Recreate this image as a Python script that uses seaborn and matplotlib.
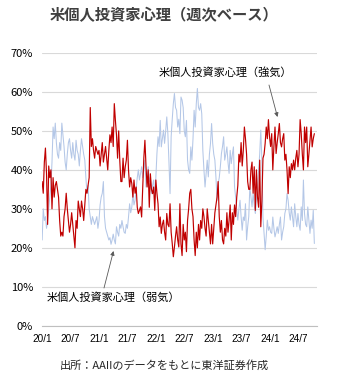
import numpy as np
import pandas as pd
import matplotlib
matplotlib.use('Agg')
import matplotlib.pyplot as plt
from matplotlib.ticker import FuncFormatter
import seaborn as sns

# ---------------- data (weekly AAII sentiment, %) ----------------
bull_2020 = [37, 34, 42, 45.6, 39, 26, 41, 38, 40, 30, 38, 33, 36, 37, 35, 33, 27, 23, 24, 23,
             28, 30, 34, 30, 27, 24, 26, 29, 26, 23, 20, 27, 25, 32, 30, 28, 32, 30, 27, 31,
             35, 34, 36, 38, 56, 46, 48, 45, 43, 46, 45, 44]
bull_2021 = [45, 41, 44, 47, 42, 44, 46, 43, 40, 45, 49, 47, 51, 46, 57, 52.7, 49, 43, 50, 42.5,
             37, 37, 43, 38, 40.8, 42.5, 47.6, 40, 35.6, 38, 36.5, 33, 37.4, 34, 35.6, 30.4, 28.8, 29.6, 30.5, 27.9,
             35.6, 43, 47.6, 41, 35.6, 40, 30.4, 39, 35, 33.9, 35.6, 29.6]
bull_2022 = [37.4, 34, 31.3, 25.4, 27.9, 23.7, 26, 27.1, 24, 22, 28.8, 26, 25.4, 31.3, 24, 21.1, 17.7, 20.2, 23, 25.4,
             22, 20.2, 31.3, 21, 18, 26, 22, 24, 19, 27, 30, 34, 35, 30, 28, 22, 18, 24, 20, 26,
             22, 27, 25, 30, 28, 25, 23, 30, 27, 24, 21, 26]
bull_2023 = [21, 25, 29, 31, 33, 37, 28, 24, 27, 22, 21, 25, 23, 29, 24, 27, 31, 22, 29, 26,
             31, 28, 33, 36, 44, 42, 47, 41, 45, 51, 48, 44, 37, 35, 35, 40, 42, 34, 40.8, 29.6,
             40, 33, 30.4, 42.5, 25.4, 32, 43, 44, 46.8, 51, 48, 52.9]
bull_2024 = [48.5, 46, 49.3, 40, 46, 51, 44.2, 47, 49.3, 51.9, 47, 45.9, 48, 49.3, 42.5, 44, 40, 33.9, 40.8, 38,
             41.6, 40, 42.5, 40, 43, 45, 40.8, 44, 52.9, 49.3, 44, 40, 51, 47, 51, 40.8, 44, 47.6, 51, 45.9,
             48, 49.3]

bear_2020 = [22, 30, 27, 28, 25, 27, 30, 33, 36, 42, 51, 48, 52, 47, 44, 43, 47, 45, 52, 49,
             46, 42, 40, 44, 47, 48, 45, 43, 47, 44, 42.5, 47.6, 45, 44, 41, 45, 48, 46, 44, 42.5,
             38, 34, 36, 30, 28, 26, 28, 27, 26, 27, 28, 25]
bear_2021 = [27, 31, 33, 34, 37, 28, 25, 24, 23, 22, 22.6, 20.9, 22, 23.5, 22, 21, 25.4, 24, 23, 26,
             25, 27, 25.4, 24, 23.7, 26, 25, 27.9, 31.3, 29, 30.4, 33.9, 31, 32.2, 35, 38, 40, 37.4, 39, 40.8,
             38, 40, 42.5, 35.6, 38, 40.8, 37, 38.2, 33.9, 36, 37.4, 33]
bear_2022 = [38, 44.2, 48.5, 46, 52.7, 45.9, 48, 50.2, 46.8, 50, 53.6, 49.3, 42, 33.9, 48.5, 53, 57, 59.6, 56, 55.3,
             51, 53, 49.3, 58.7, 57.9, 56, 50, 48.5, 52.7, 42.5, 40, 39.1, 45.9, 42.5, 48, 55.3, 51, 57, 60.9, 56,
             55.3, 57, 54.4, 45, 40, 35.6, 39, 42.5, 38.2, 44, 46.8, 51.9]
bear_2023 = [46.8, 44, 42.5, 38, 32.2, 36.5, 38, 40.8, 44.2, 46, 48.5, 42.5, 44, 45.9, 42, 39.1, 45, 41.6, 44, 45.9,
             35.6, 33, 29.6, 27.1, 30, 32.2, 28, 24.5, 27.9, 27, 31.3, 22, 25.4, 28, 35.6, 33, 30.5, 33.9, 31, 28.8,
             32.2, 36, 40, 44, 50.2, 42.5, 27.9, 23.7, 19.5, 23, 27.1, 24.5]
bear_2024 = [25.4, 24, 23.7, 27.9, 25, 22.8, 24, 25.4, 23.7, 26, 27.9, 22, 24, 25.4, 28.8, 30, 33.9, 32.2, 29, 27.1,
             30.5, 28, 25.4, 31.3, 28, 25.4, 28.8, 26, 24.5, 30.5, 27, 37.4, 28.8, 26, 25.4, 30.5, 27, 23.7, 27.1, 25,
             29.6, 21.1]

bullish = bull_2020 + bull_2021 + bull_2022 + bull_2023 + bull_2024
bearish = bear_2020 + bear_2021 + bear_2022 + bear_2023 + bear_2024
series_names = ['米個人投資家心理（弱気）', '米個人投資家心理（強気）']
tick_dates = ['2020-01-01', '2020-07-01', '2021-01-01', '2021-07-01', '2022-01-01',
              '2022-07-01', '2023-01-01', '2023-07-01', '2024-01-01', '2024-07-01']
tick_labels = ['20/1', '20/7', '21/1', '21/7', '22/1', '22/7', '23/1', '23/7', '24/1', '24/7']
title = '米個人投資家心理（週次ベース）'
source = '出所：AAIIのデータをもとに東洋証券作成'

n = len(bullish)
weeks = pd.date_range('2020-01-02', periods=n, freq='7D')
df = pd.DataFrame({
    'date': list(weeks) + list(weeks),
    'value': [v / 100 for v in bearish] + [v / 100 for v in bullish],
    'series': [series_names[0]] * len(bearish) + [series_names[1]] * n,
})

# ---------------- style ----------------
sns.set_theme(style='white')
plt.rcParams['font.family'] = ['Noto Sans CJK JP', 'DejaVu Sans']

W, H = 340, 390
fig = plt.figure(figsize=(W / 100, H / 100), dpi=100)
ax = fig.add_axes([42 / W, 1 - 325.7 / H, 275 / W, 272.7 / H])

sns.lineplot(data=df, x='date', y='value', hue='series',
             palette={series_names[0]: '#B4C7E7', series_names[1]: '#C00000'},
             ax=ax, legend=False, linewidth=0.8, estimator=None)
for line, lw in zip(ax.get_lines(), [0.75, 0.85]):
    line.set_linewidth(lw)

ax.set_ylim(0, 0.7)
ax.set_yticks(np.arange(0, 0.71, 0.1))
ax.yaxis.set_major_formatter(FuncFormatter(lambda v, p: f'{v*100:.0f}%'))
ax.set_xlim(pd.Timestamp('2020-01-01'), pd.Timestamp('2024-10-27'))
ax.set_xticks(pd.to_datetime(tick_dates))
ax.set_xticklabels(tick_labels)
ax.set_xlabel('')
ax.set_ylabel('')

ax.grid(axis='y', color='#D9D9D9', linewidth=0.8)
ax.grid(axis='x', visible=False)
ax.set_axisbelow(True)
for s in ['left', 'right', 'top']:
    ax.spines[s].set_visible(False)
ax.spines['bottom'].set_color('#BFBFBF')
ax.spines['bottom'].set_linewidth(0.8)

ax.tick_params(axis='y', length=0, pad=6.5, labelsize=8, labelcolor='#000000')
ax.tick_params(axis='x', direction='out', length=3, width=0.8, color='#BFBFBF',
               pad=3, labelsize=7.2, labelcolor='#000000')
for lab in ax.get_xticklabels():
    lab.set_family(['Liberation Sans Narrow', 'Liberation Sans', 'DejaVu Sans'])

def fp(x, y):
    return (x / W, 1 - y / H)

fig.text(*fp(164, 15), title, ha='center', va='center', fontsize=11,
         fontweight='bold', color='#404040')
fig.text(*fp(164, 365), source, ha='center', va='center', fontsize=8, color='#262626')

# annotations
fig.text(*fp(225, 73), series_names[1], ha='center', va='center', fontsize=8, color='#000000')
fig.text(*fp(113, 298), series_names[0], ha='center', va='center', fontsize=8, color='#000000')
arrow = dict(arrowstyle='-|>', color='#595959', lw=0.6, mutation_scale=6,
             shrinkA=0, shrinkB=0)
ax.annotate('', xy=fp(277.5, 117), xycoords='figure fraction',
            xytext=fp(269, 85), textcoords='figure fraction', arrowprops=arrow)
ax.annotate('', xy=fp(113.5, 251), xycoords='figure fraction',
            xytext=fp(104, 288), textcoords='figure fraction', arrowprops=arrow)

fig.savefig('out.png', dpi=100)
